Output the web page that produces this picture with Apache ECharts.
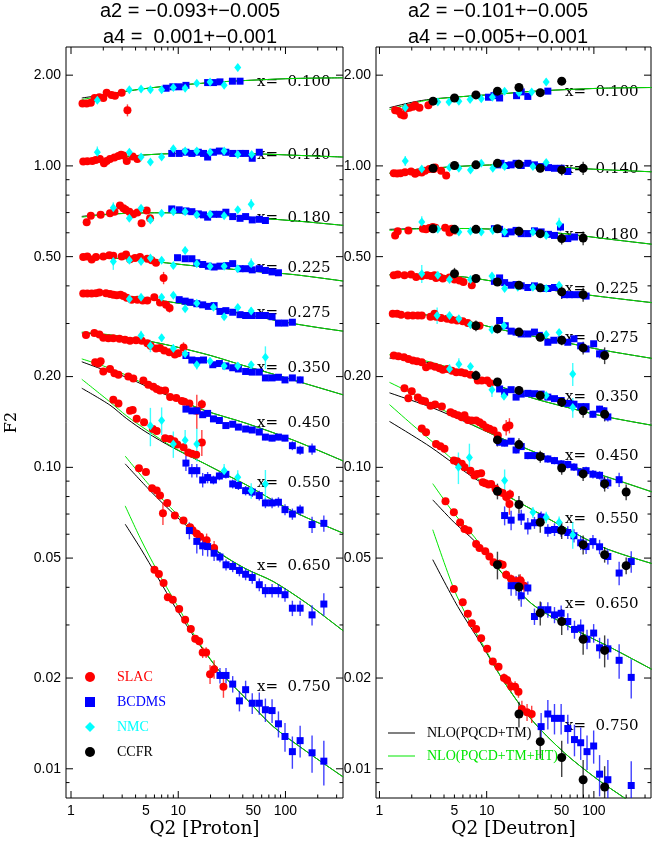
<!DOCTYPE html>
<html>
<head>
<meta charset="utf-8">
<title>F2 proton / deuteron</title>
<script src="https://cdn.jsdelivr.net/npm/echarts@6.0.0/dist/echarts.min.js"></script>
<style>html,body{margin:0;background:#fff}#main{width:654px;height:845px}</style>
</head>
<body>
<div id="main"></div>
<script>
// x bins (one row of points + two curves each)
var xBins = ['0.100', '0.140', '0.180', '0.225', '0.275', '0.350', '0.450', '0.550', '0.650', '0.750'];

// tick values
var xMajor = [1, 10, 100];
var xMinor = [2, 3, 4, 5, 6, 7, 8, 9, 20, 30, 40, 50, 60, 70, 80, 90, 200, 300];
var xLabels = [1, 5, 10, 50, 100];
var yMajor = [0.01, 0.02, 0.05, 0.1, 0.2, 0.5, 1, 2];
var yMinor = [0.009, 0.03, 0.04, 0.06, 0.07, 0.08, 0.09, 0.3, 0.4, 0.6, 0.7, 0.8, 0.9];

// ---- proton: [Q2, F2, err] ----
var pSLAC = [
  // 0.100
  [1.28,1.61,.02],[1.40,1.61,.02],[1.53,1.62,.02],[1.66,1.68,.03],[1.84,1.69,.02],[2.0,1.68,.02],[2.15,1.75,.02],[2.39,1.72,.02],[2.57,1.71,.02],[2.97,1.75,.03],[3.36,1.53,.07],
  // 0.140
  [1.30,1.034,.012],[1.42,1.036,.012],[1.58,1.039,.012],[1.70,1.047,.015],[1.86,1.055,.012],[2.03,1.02,.015],[2.15,1.039,.012],[2.31,1.055,.015],[2.54,1.066,.012],[2.77,1.079,.015],[2.93,1.088,.015],[3.08,1.082,.015],[3.31,1.039,.015],[3.76,1.074,.015],[4.16,1.055,.02],
  // 0.180
  [1.40,0.650,.008],[1.53,0.684,.008],[1.89,0.688,.008],[2.31,0.697,.008],[2.54,0.705,.01],[2.86,0.739,.01],[3.08,0.724,.01],[3.23,0.715,.01],[3.5,0.705,.01],[3.81,0.691,.01],[4.16,0.70,.01],[4.55,0.645,.015],[5.08,0.711,.012],[5.46,0.67,.012],
  // 0.225
  [1.30,0.499,.005],[1.42,0.501,.005],[1.56,0.489,.005],[1.71,0.499,.005],[2.0,0.501,.005],[2.28,0.505,.006],[2.48,0.503,.006],[2.97,0.501,.006],[3.26,0.508,.006],[3.55,0.49,.006],[3.95,0.495,.006],[4.4,0.499,.006],[5.15,0.492,.007],[5.65,0.486,.007],[6.2,0.477,.007],[7.3,0.425,.02],
  // 0.275
  [1.30,0.377,.004],[1.42,0.377,.004],[1.56,0.377,.004],[1.71,0.378,.004],[1.84,0.380,.004],[2.12,0.378,.004],[2.31,0.376,.004],[2.48,0.374,.004],[2.67,0.372,.004],[2.90,0.374,.004],[3.08,0.370,.004],[3.31,0.365,.004],[3.68,0.360,.005],[4.16,0.360,.005],[4.66,0.358,.005],[5.15,0.358,.005],[5.98,0.367,.006],[6.76,0.352,.006],[7.7,0.346,.008],[8.3,0.338,.012],
  // 0.350
  [1.38,0.275,.003],[1.65,0.279,.003],[1.84,0.276,.003],[2.0,0.269,.003],[2.23,0.268,.003],[2.48,0.268,.003],[2.83,0.267,.003],[3.19,0.265,.003],[3.55,0.263,.003],[4.04,0.264,.003],[4.57,0.263,.003],[5.15,0.258,.003],[5.53,0.253,.003],[6.2,0.248,.003],[6.76,0.249,.003],[7.4,0.244,.004],[8.25,0.241,.004],[9.3,0.237,.004],[10.0,0.239,.004],[11.2,0.250,.01],
  // 0.450
  [1.68,0.223,.003],[1.80,0.221,.003],[1.89,0.225,.003],[2.0,0.208,.003],[2.31,0.212,.003],[2.54,0.205,.003],[2.77,0.203,.003],[3.42,0.20,.003],[3.81,0.197,.003],[4.73,0.194,.003],[5.26,0.188,.003],[5.86,0.185,.003],[6.3,0.182,.003],[6.76,0.180,.003],[7.55,0.180,.003],[8.4,0.171,.003],[9.6,0.170,.003],[10.8,0.166,.004],[11.4,0.165,.004],[12.7,0.163,.004],[14.9,0.154,.02],[16.6,0.162,.006],
  // 0.550
  [2.48,0.1675,.002],[2.77,0.163,.002],[3.55,0.154,.002],[3.76,0.155,.002],[4.1,0.145,.002],[4.8,0.1412,.002],[5.8,0.134,.002],[6.3,0.132,.002],[7.55,0.125,.002],[8.4,0.1242,.002],[9.2,0.122,.002],[9.8,0.119,.002],[11.2,0.1166,.002],[12.4,0.112,.002],[13.4,0.111,.003],[14.7,0.110,.003],[16.6,0.121,.012],
  // 0.650
  [4.3,0.0993,.0015],[5.0,0.0965,.0015],[5.7,0.0852,.0015],[6.3,0.0838,.0015],[6.76,0.0807,.0015],[7.2,0.0704,.006],[7.9,0.0762,.0015],[9.3,0.0692,.0015],[11.2,0.0666,.0015],[12.9,0.0633,.0015],[13.6,0.0618,.002],[14.9,0.0602,.002],[16.0,0.0588,.002],[18.4,0.0573,.003],[21.6,0.054,.003],
  // 0.750
  [6.0,0.0457,.0008],[6.6,0.0443,.0008],[7.3,0.0413,.0008],[8.0,0.0371,.0008],[8.9,0.0364,.0008],[10.2,0.0339,.0008],[11.6,0.0312,.0008],[13.1,0.0291,.0008],[14.4,0.0270,.0008],[15.7,0.0265,.0008],[16.9,0.0243,.001],[18.2,0.0243,.001],[19.8,0.0206,.0015],[21.6,0.0214,.0015],[26.4,0.0187,.0015]
];
var pBCDMS = [
  [7.7,1.81,.02],[8.9,1.83,.02],[10.2,1.83,.02],[11.8,1.85,.02],[18.8,1.89,.02],[21.3,1.89,.02],[24.5,1.90,.02],[32,1.91,.02],[37.7,1.91,.02],
  [8.7,1.10,.012],[10.2,1.10,.012],[11.8,1.11,.012],[13.4,1.10,.012],[15.4,1.11,.012],[17.2,1.10,.012],[18.8,1.07,.012],[21.3,1.11,.012],[24.2,1.12,.012],[27.8,1.11,.012],[32.2,1.10,.012],[37.7,1.10,.012],[42.5,1.10,.012],[49,1.06,.015],[57,1.11,.015],
  [8.7,0.72,.008],[10.2,0.715,.008],[11.8,0.709,.008],[13.4,0.705,.008],[15.4,0.693,.008],[17.2,0.688,.008],[18.8,0.676,.008],[21.3,0.691,.008],[24.2,0.691,.008],[27.8,0.702,.008],[32.2,0.679,.008],[37.7,0.67,.008],[42.5,0.679,.008],[49,0.662,.008],[57,0.665,.008],[65,0.659,.01],
  [9.85,0.496,.005],[11.6,0.492,.005],[13.4,0.492,.005],[14.9,0.477,.005],[16.9,0.471,.005],[19.1,0.465,.005],[21.6,0.462,.005],[24.5,0.465,.005],[28.3,0.467,.005],[32.2,0.474,.005],[37.7,0.456,.005],[42.5,0.456,.005],[49,0.452,.005],[57,0.456,.006],[65,0.45,.006],[75,0.445,.006],[86,0.442,.007],
  [10.2,0.360,.004],[11.6,0.356,.004],[12.9,0.353,.004],[14.9,0.349,.004],[16.9,0.346,.004],[19.1,0.342,.004],[21.6,0.344,.004],[24.5,0.329,.004],[27.8,0.331,.004],[32.2,0.327,.004],[37.7,0.321,.004],[42.5,0.319,.004],[49,0.319,.004],[57,0.319,.004],[65,0.319,.004],[75,0.316,.005],[86,0.301,.005],[99,0.301,.005],[116,0.303,.006],
  [11.8,0.235,.003],[13.4,0.227,.003],[14.9,0.226,.003],[17.2,0.227,.003],[21,0.219,.003],[24.2,0.221,.003],[27.8,0.217,.003],[32.2,0.214,.003],[36.4,0.212,.003],[42.5,0.208,.003],[49,0.207,.003],[57,0.207,.003],[65,0.198,.003],[75,0.198,.003],[86,0.199,.003],[99,0.195,.004],[116,0.198,.004],[137,0.195,.005],
  [11.8,0.156,.003],[13.4,0.154,.003],[14.9,0.154,.003],[16.9,0.1495,.003],[18.8,0.151,.003],[21.3,0.1448,.003],[24.2,0.143,.003],[27.8,0.1376,.003],[32.2,0.139,.003],[36.4,0.136,.003],[42.5,0.134,.003],[49,0.133,.003],[57,0.131,.003],[65,0.126,.003],[75,0.125,.003],[86,0.126,.003],[99,0.125,.003],[116,0.118,.004],[137,0.114,.004],[177,0.115,.005],
  [11.8,0.1033,.006],[13.4,0.0975,.005],[14.9,0.0975,.005],[16.9,0.0908,.005],[18.8,0.0925,.004],[21.3,0.0908,.003],[24.2,0.0936,.003],[27.8,0.0948,.003],[32.2,0.0881,.003],[36.4,0.0871,.003],[42.5,0.0837,.003],[49,0.0828,.003],[57,0.0806,.003],[65,0.0762,.003],[75,0.0762,.003],[86,0.0766,.003],[99,0.0724,.003],[116,0.070,.003],[137,0.0722,.003],[177,0.0646,.004],[228,0.0652,.004],
  [12.7,0.0617,.004],[14.9,0.0568,.005],[16.9,0.0549,.004],[18.8,0.0546,.004],[21.6,0.0519,.003],[24.5,0.0504,.002],[27.9,0.0475,.002],[32.2,0.0469,.002],[37.2,0.0455,.002],[42.5,0.0442,.002],[49,0.0431,.002],[57,0.0408,.002],[65,0.039,.002],[75,0.039,.002],[86,0.039,.002],[99,0.0378,.002],[116,0.0341,.002],[137,0.0341,.002],[177,0.0324,.0025],[228,0.0352,.003],
  [24.5,0.0204,.0012],[27.9,0.0204,.0012],[32.2,0.0191,.0012],[37.2,0.0168,.0013],[42.5,0.0183,.0013],[49,0.0165,.0013],[57,0.0165,.0014],[65,0.0157,.0014],[75,0.0156,.0014],[86,0.0141,.0014],[99,0.0128,.0014],[116,0.0114,.0014],[137,0.0124,.0015],[177,0.0113,.0016],[228,0.0106,.0018]
];
var pNMC = [
  [1.76,1.65,.04],[3.5,1.79,.03],[4.5,1.80,.03],[5.5,1.79,.03],[7.0,1.79,.03],[9.0,1.82,.03],[11.6,1.81,.03],[14.9,1.88,.03],[19.8,1.90,.03],[26.8,1.85,.03],[35.9,2.12,.06],
  [1.76,1.11,.05],[3.5,1.11,.02],[4.5,1.07,.02],[5.5,1.03,.02],[7.0,1.07,.02],[9.0,1.14,.02],[11.6,1.12,.02],[14.9,1.12,.02],[19.8,1.11,.02],[26.8,1.12,.02],[35.9,1.09,.02],[48.4,1.09,.025],
  [2.48,0.727,.03],[3.5,0.67,.015],[4.5,0.724,.015],[5.5,0.662,.015],[7.0,0.697,.012],[9.0,0.705,.012],[11.6,0.705,.012],[14.9,0.688,.012],[19.8,0.691,.012],[26.8,0.684,.012],[35.9,0.715,.015],[47.9,0.746,.03],
  [2.48,0.482,.03],[3.5,0.486,.01],[4.5,0.482,.01],[5.5,0.495,.01],[7.0,0.486,.01],[9.0,0.467,.01],[11.6,0.524,.015],[14.9,0.474,.008],[19.8,0.465,.008],[26.8,0.465,.008],[35.9,0.456,.01],[47.9,0.474,.02],
  [3.5,0.362,.008],[4.5,0.367,.008],[7.0,0.367,.008],[9.0,0.372,.008],[11.6,0.336,.008],[14.9,0.35,.008],[21.3,0.34,.008],[26.8,0.316,.008],[35.9,0.339,.008],[47.9,0.33,.01],
  [4.5,0.274,.01],[5.5,0.253,.012],[7.0,0.269,.008],[9.0,0.248,.008],[11.6,0.238,.008],[14.9,0.219,.008],[19.8,0.225,.006],[26.8,0.217,.006],[35.9,0.217,.006],[47.9,0.219,.006],[65,0.232,.02],
  [5.5,0.1375,.02],[7.0,0.143,.015],[9.0,0.1195,.012],[11.6,0.123,.01],[14.9,0.1195,.015],[26.8,0.0975,.005],[35.9,0.0928,.005],[47.9,0.0836,.005],[65,0.088,.01]
];

// ---- deuteron: [Q2, F2, err] ----
var dSLAC = [
  [1.40,1.53,.03],[1.50,1.52,.03],[1.59,1.48,.03],[1.69,1.47,.04],[1.77,1.55,.03],[1.90,1.56,.03],[2.05,1.57,.03],[2.15,1.59,.03],[2.36,1.56,.03],[2.86,1.59,.03],
  [1.36,0.946,.01],[1.46,0.943,.01],[1.57,0.946,.01],[1.73,0.953,.01],[1.97,0.958,.01],[2.15,0.941,.01],[2.31,0.953,.01],[2.48,0.95,.01],[2.66,0.963,.01],[2.92,0.977,.01],[3.21,0.977,.012],[3.30,0.987,.012],[3.76,0.963,.012],[4.19,0.929,.02],
  [1.40,0.588,.008],[1.48,0.607,.008],[1.86,0.611,.006],[2.54,0.619,.006],[2.72,0.616,.006],[2.92,0.622,.006],[3.14,0.627,.006],[3.33,0.624,.006],[4.1,0.624,.006],[4.5,0.601,.008],[4.73,0.619,.008],[5.07,0.611,.008],
  [1.36,0.434,.004],[1.48,0.436,.004],[1.71,0.434,.004],[1.97,0.436,.004],[2.2,0.428,.004],[2.48,0.431,.004],[2.78,0.434,.004],[3.03,0.431,.004],[3.26,0.434,.004],[3.37,0.425,.004],[3.63,0.428,.004],[3.9,0.423,.004],[4.5,0.426,.005],[5.01,0.420,.005],[5.58,0.417,.005],[6.07,0.412,.006],[7.26,0.402,.01],
  [1.33,0.323,.003],[1.46,0.323,.003],[1.59,0.321,.003],[1.84,0.319,.003],[2.05,0.319,.003],[2.28,0.319,.003],[2.48,0.319,.003],[2.99,0.316,.003],[3.26,0.323,.006],[3.37,0.316,.003],[3.76,0.313,.003],[4.28,0.311,.003],[4.73,0.309,.003],[5.3,0.307,.003],[5.98,0.305,.003],[6.67,0.301,.004],[7.8,0.295,.004],[8.57,0.295,.004],
  [1.36,0.2349,.002],[1.50,0.2337,.002],[1.69,0.232,.002],[1.86,0.2288,.002],[2.05,0.2261,.002],[2.24,0.225,.002],[2.48,0.2233,.002],[2.72,0.2148,.002],[2.99,0.2175,.002],[3.3,0.2158,.002],[3.63,0.213,.002],[3.9,0.2109,.002],[4.28,0.212,.002],[4.73,0.2093,.002],[5.2,0.2067,.002],[5.78,0.2067,.002],[6.28,0.2051,.002],[7.06,0.203,.003],[8.26,0.194,.003],[9.0,0.194,.003],[10.1,0.194,.003],[10.8,0.19,.003],
  [1.71,0.1831,.002],[1.86,0.1694,.002],[2.0,0.179,.002],[2.28,0.1706,.002],[2.48,0.1665,.002],[2.66,0.1657,.002],[2.99,0.1602,.002],[3.3,0.1616,.002],[3.82,0.1591,.002],[4.6,0.1524,.002],[4.94,0.1507,.002],[5.38,0.149,.002],[5.86,0.1467,.002],[6.21,0.149,.002],[6.67,0.1436,.002],[7.26,0.143,.002],[7.97,0.143,.002],[8.57,0.1411,.002],[9.2,0.1387,.002],[9.9,0.1356,.002],[10.6,0.1342,.002],[11.6,0.1326,.002],[12.7,0.1275,.003],[15.2,0.1356,.008],[16.3,0.1376,.008],
  [2.48,0.1346,.0015],[2.72,0.1308,.0015],[3.37,0.1195,.0015],[3.7,0.1175,.0015],[4.04,0.1153,.0015],[4.94,0.1053,.0015],[5.3,0.1048,.0015],[5.86,0.1027,.0015],[6.21,0.100,.0015],[7.06,0.0975,.0015],[7.69,0.094,.0015],[8.15,0.0951,.0015],[8.88,0.0955,.0015],[9.2,0.0892,.0015],[9.7,0.0886,.0015],[10.4,0.0877,.0015],[11.0,0.0881,.0015],[12.1,0.0849,.002],[13.2,0.0829,.002],[14.1,0.0822,.002],[15.2,0.0798,.003],[16.5,0.0814,.003],[16.3,0.0756,.006],
  [4.13,0.0772,.001],[4.94,0.0709,.001],[5.65,0.0656,.001],[6.21,0.0624,.001],[6.77,0.0617,.001],[7.97,0.0557,.001],[8.57,0.054,.001],[9.7,0.0527,.001],[10.6,0.0506,.001],[11.6,0.0484,.001],[13.2,0.0479,.0015],[14.1,0.0475,.0015],[15.2,0.044,.0015],[16.9,0.0426,.0015],[18.8,0.0419,.0015],[20.6,0.0422,.002],[22.3,0.0405,.002],
  [4.94,0.0395,.0006],[5.98,0.0357,.0006],[6.67,0.0327,.0006],[7.26,0.0304,.0006],[7.97,0.0291,.0006],[8.88,0.0271,.0006],[10.1,0.025,.0006],[11.4,0.0227,.0006],[12.9,0.0218,.0006],[14.5,0.02,.0007],[15.5,0.0197,.0007],[16.9,0.0188,.0008],[18.4,0.0187,.0008],[19.8,0.018,.0008],[21.3,0.0158,.001],[23.8,0.0154,.001],[26.3,0.0152,.001]
];
var dBCDMS = [
  [10.4,1.69,.02],[11.7,1.71,.02],[13.2,1.68,.02],[19,1.71,.02],[21,1.76,.02],[24.2,1.70,.02],[37.2,1.77,.03],
  [12.7,1.008,.012],[13.6,1.02,.012],[15.2,1.003,.012],[16.9,1.008,.012],[18.8,1.02,.012],[21,1.003,.012],[24.2,1.02,.012],[27.9,1.008,.012],[32.2,0.995,.012],[37.7,0.987,.012],[42.9,0.982,.012],[49.5,0.982,.015],[57.1,0.958,.015],
  [11.8,0.619,.007],[13.2,0.616,.007],[14.9,0.596,.007],[16.9,0.604,.007],[18.8,0.611,.007],[21,0.596,.007],[24.2,0.596,.007],[27.9,0.609,.007],[32.2,0.604,.007],[37.7,0.593,.007],[42.9,0.588,.007],[48.8,0.627,.02],[57.1,0.574,.008],[65.9,0.581,.008],
  [11.8,0.414,.005],[13.2,0.425,.005],[14.7,0.410,.005],[16.9,0.402,.005],[18.8,0.404,.005],[21,0.400,.005],[24.2,0.395,.005],[27.9,0.400,.005],[32.2,0.392,.005],[37.2,0.392,.005],[42.9,0.395,.005],[53.2,0.374,.005],[59.3,0.374,.005],[65.9,0.374,.005],[76.1,0.374,.006],[84.6,0.370,.006],
  [13.2,0.307,.004],[14.9,0.295,.004],[16.9,0.283,.004],[18.8,0.281,.004],[21,0.277,.004],[24.2,0.277,.004],[27.9,0.281,.004],[31,0.274,.004],[37.2,0.260,.004],[42.3,0.264,.004],[49.5,0.265,.004],[57.1,0.260,.004],[65.2,0.267,.004],[75.3,0.253,.005],[84.6,0.247,.005],[99.5,0.257,.005],[113,0.238,.008],[124,0.238,.008],
  [13.2,0.182,.003],[14.7,0.1775,.003],[16.9,0.181,.003],[18.8,0.171,.003],[21,0.175,.003],[24.2,0.176,.003],[27.9,0.1755,.003],[32.2,0.175,.003],[37.2,0.171,.003],[42.9,0.169,.003],[49.5,0.1666,.003],[57.1,0.163,.003],[65.2,0.162,.003],[75.3,0.159,.003],[84.6,0.159,.003],[98,0.150,.004],[113,0.156,.004],[124,0.154,.004],[135,0.147,.005],
  [13.2,0.1212,.003],[14.7,0.1203,.003],[16.9,0.1221,.003],[18.8,0.1142,.003],[21,0.1172,.003],[24.2,0.1094,.003],[27.9,0.1094,.003],[32.2,0.1086,.003],[37.2,0.1066,.003],[42.9,0.1053,.003],[49.5,0.1027,.003],[57.1,0.1022,.003],[65.2,0.1002,.003],[75.3,0.0964,.003],[84.6,0.0975,.003],[98,0.0949,.003],[113,0.0941,.003],[124,0.0888,.004],[135,0.0888,.004],[172,0.091,.005],
  [14.7,0.0692,.005],[16.9,0.0668,.005],[21,0.0684,.004],[24.2,0.0639,.004],[27.9,0.0655,.003],[32.2,0.0684,.003],[37.2,0.0618,.003],[42.9,0.0622,.003],[49.5,0.0618,.003],[57.1,0.0608,.003],[65.2,0.0593,.003],[75.3,0.0562,.003],[84.6,0.0546,.003],[98,0.0567,.003],[113,0.0545,.003],[135,0.0506,.003],[172,0.0446,.004],[223,0.0487,.004],
  [16.9,0.0405,.003],[18.8,0.0405,.003],[21,0.0375,.003],[24.2,0.0398,.002],[27.9,0.032,.002],[32.2,0.0337,.002],[37.2,0.0337,.002],[42.9,0.0324,.002],[49.5,0.0328,.002],[57.1,0.0308,.002],[65.9,0.029,.002],[75.3,0.0293,.002],[86.3,0.0269,.002],[99.5,0.0282,.002],[113,0.0252,.002],[135,0.025,.002],[172,0.0229,.003],[223,0.0201,.003],
  [32.2,0.0138,.0015],[37.2,0.0152,.0017],[42.9,0.0147,.0017],[49.5,0.0147,.0017],[57.1,0.0136,.0015],[65.9,0.0125,.0015],[75.3,0.0122,.0015],[86.3,0.0114,.0015],[99.5,0.0119,.0015],[113,0.0096,.0015],[135,0.0092,.0015],[223,0.0088,.0018]
];
var dNMC = [
  [1.74,1.56,.03],[3.5,1.63,.02],[4.45,1.63,.02],[5.5,1.64,.02],[7.0,1.66,.02],[8.9,1.67,.02],[11.3,1.69,.02],[14.7,1.77,.02],[20,1.75,.02],[26.3,1.76,.02],[35.9,1.90,.05],
  [1.74,1.039,.04],[2.48,0.977,.015],[4.5,0.987,.012],[5.5,0.982,.012],[7.06,0.97,.012],[8.9,1.02,.012],[11.4,0.982,.012],[14.7,0.995,.012],[19.5,1.008,.012],[27,0.995,.012],[35.9,1.026,.015],
  [2.48,0.651,.03],[3.5,0.616,.01],[5.5,0.604,.008],[7.06,0.607,.008],[8.9,0.604,.008],[11.4,0.611,.008],[14.7,0.604,.008],[19.5,0.607,.008],[27,0.604,.008],[35.9,0.588,.008],[47.4,0.643,.03],
  [2.48,0.439,.03],[3.5,0.434,.006],[4.5,0.42,.006],[7.06,0.42,.006],[11.2,0.431,.008],[14.7,0.392,.006],[19.5,0.396,.006],[27,0.396,.006],[35.9,0.392,.006],[47.4,0.402,.008],
  [3.45,0.319,.02],[4.5,0.319,.005],[5.5,0.311,.005],[7.06,0.297,.005],[11.2,0.286,.005],[14.5,0.295,.005],[35.9,0.276,.005],[47.4,0.28,.006],[63.5,0.204,.018],
  [4.5,0.212,.008],[5.5,0.220,.01],[7.06,0.216,.004],[11.2,0.181,.01],[14.5,0.172,.004],[35.9,0.173,.004],[63.5,0.158,.012],
  [5.45,0.100,.012],[6.9,0.1078,.012],[14.7,0.0904,.008],[27,0.0709,.003],[35.9,0.0683,.003],[47.4,0.0657,.003],[63.5,0.0597,.006]
];
var dCCFR = [
  [3.16,1.64,.03],[5.01,1.68,.03],[7.94,1.72,.03],[12.6,1.77,.03],[20,1.82,.03],[31.6,1.75,.04],[50.1,1.91,.05],
  [3.16,0.982,.03],[5.01,1.003,.02],[7.94,1.008,.02],[12.6,1.02,.03],[20,1.013,.03],[31.6,0.982,.03],[50.1,0.97,.04],[79.4,0.982,.05],
  [3.16,0.619,.012],[5.01,0.616,.012],[7.94,0.616,.012],[12.6,0.619,.012],[20,0.607,.012],[31.6,0.596,.02],[50.1,0.574,.025],[79.4,0.576,.03],
  [5.01,0.439,.02],[7.94,0.423,.01],[12.6,0.412,.01],[20,0.402,.01],[31.6,0.394,.01],[50.1,0.382,.02],[79.4,0.374,.02],
  [7.94,0.295,.012],[12.6,0.288,.01],[20,0.281,.008],[31.6,0.270,.008],[50.1,0.264,.01],[79.4,0.249,.012],[126,0.235,.015],
  [7.94,0.2016,.008],[12.6,0.192,.006],[20,0.180,.006],[31.6,0.173,.006],[50.1,0.1645,.006],[79.4,0.154,.008],[126,0.150,.008],
  [12.6,0.1233,.006],[20,0.119,.006],[31.6,0.1086,.005],[50.1,0.0995,.005],[79.4,0.0951,.005],[126,0.0881,.005],[200,0.0828,.005],
  [12.6,0.0833,.005],[20,0.0753,.005],[31.6,0.0657,.005],[50.1,0.0618,.004],[79.4,0.0554,.004],[126,0.0513,.003],[200,0.0472,.003],
  [12.6,0.0475,.005],[20,0.0401,.004],[31.6,0.0329,.003],[50.1,0.0308,.003],[79.4,0.0269,.003],[126,0.0247,.003],
  [20,0.0152,.0015],[31.6,0.0123,.0015],[50.1,0.0109,.0015],[79.4,0.0092,.0015],[126,0.0087,.0015]
];

// ---- NLO curves, one list per x bin: [Q2, F2] ----
var pHT = [
  [[1.26,1.66],[2,1.71],[3.31,1.77],[6.76,1.83],[13.8,1.87],[28,1.905],[58,1.93],[120,1.95],[345,1.96]],
  [[1.26,1.018],[2,1.05],[3.3,1.075],[6.8,1.095],[14,1.10],[28,1.10],[60,1.095],[120,1.085],[345,1.07]],
  [[1.26,0.676],[2,0.688],[3.3,0.696],[6,0.699],[10,0.698],[20,0.69],[40,0.678],[80,0.665],[150,0.653],[345,0.635]],
  [[1.26,0.496],[2,0.495],[3.31,0.492],[5,0.485],[9,0.474],[15,0.465],[28,0.456],[55,0.446],[119,0.436],[345,0.415]],
  [[1.26,0.378],[2,0.377],[3.3,0.37],[6,0.36],[12,0.347],[25,0.333],[50,0.318],[100,0.303],[200,0.291],[345,0.283]],
  [[1.26,0.281],[2,0.277],[3.3,0.27],[6,0.26],[10,0.25],[20,0.235],[40,0.218],[80,0.203],[150,0.19],[345,0.174]],
  [[1.26,0.229],[2,0.217],[3.3,0.202],[5,0.188],[9,0.171],[18,0.154],[43,0.14],[119,0.123],[345,0.105]],
  [[1.26,0.196],[2.3,0.165],[3.31,0.148],[5,0.1335],[9,0.1165],[18,0.1025],[28,0.0945],[43,0.0875],[119,0.0713],[345,0.0605]],
  [[3.2,0.109],[5.5,0.0865],[9.7,0.0700],[16,0.0590],[24.5,0.0520],[43,0.0460],[77,0.0418],[158,0.0354],[345,0.0287]],
  [[3.2,0.0745],[4.5,0.0575],[6.3,0.0457],[9.7,0.035],[14.9,0.0269],[24.5,0.021],[43.5,0.017],[77,0.0138],[158,0.0114],[345,0.0094]]
];
var pTM = [
  [[1.26,1.68],[2,1.72],[3.31,1.77],[6.76,1.83],[13.8,1.87],[28,1.905],[58,1.93],[120,1.95],[345,1.96]],
  [[1.26,1.02],[2,1.05],[3.3,1.075],[6.8,1.095],[14,1.10],[28,1.10],[60,1.095],[120,1.085],[345,1.07]],
  [[1.26,0.68],[2,0.69],[3.3,0.696],[6,0.699],[10,0.698],[20,0.69],[40,0.678],[80,0.665],[150,0.653],[345,0.635]],
  [[1.26,0.496],[2,0.495],[3.31,0.492],[5,0.485],[9,0.474],[15,0.465],[28,0.456],[55,0.446],[119,0.436],[345,0.415]],
  [[1.26,0.378],[2,0.377],[3.3,0.37],[6,0.36],[12,0.347],[25,0.333],[50,0.318],[100,0.303],[200,0.291],[345,0.283]],
  [[1.26,0.279],[2,0.276],[3.3,0.27],[6,0.26],[10,0.25],[20,0.235],[40,0.218],[80,0.203],[150,0.19],[345,0.174]],
  [[1.26,0.224],[2,0.211],[3.3,0.199],[5,0.186],[9,0.170],[18,0.154],[43,0.14],[119,0.123],[345,0.105]],
  [[1.26,0.183],[2.3,0.161],[3.31,0.145],[5,0.131],[9,0.116],[18,0.1025],[28,0.0945],[43,0.0875],[119,0.0713],[345,0.0605]],
  [[3.2,0.1027],[5.5,0.0835],[9.7,0.0685],[16,0.0585],[24.5,0.0518],[43,0.0460],[77,0.0418],[158,0.0354],[345,0.0287]],
  [[3.2,0.0648],[4.5,0.0535],[6.3,0.0437],[9.7,0.0337],[14.9,0.0266],[24.5,0.021],[43.5,0.017],[77,0.0138],[158,0.0114],[345,0.0094]]
];
var dHT = [
  [[1.24,1.538],[2,1.61],[3.03,1.66],[6.2,1.70],[12.7,1.73],[25,1.765],[53,1.79],[120,1.81],[345,1.82]],
  [[1.24,0.946],[2,0.968],[3.03,0.982],[6,0.998],[12.7,1.008],[25,1.002],[53,0.987],[120,0.972],[345,0.956]],
  [[1.24,0.611],[2,0.617],[3.03,0.619],[6,0.62],[12.7,0.616],[25,0.607],[53,0.596],[120,0.575],[345,0.550]],
  [[1.24,0.434],[3.03,0.434],[6.2,0.428],[12.7,0.412],[26,0.396],[53,0.382],[120,0.368],[345,0.352]],
  [[1.24,0.324],[2,0.323],[3.03,0.319],[6.2,0.307],[12.7,0.288],[25,0.274],[53,0.26],[120,0.245],[345,0.230]],
  [[1.24,0.2366],[2,0.231],[3.03,0.2231],[6.2,0.2066],[12.7,0.187],[25,0.171],[53,0.159],[120,0.148],[345,0.138]],
  [[1.24,0.1914],[2,0.176],[3.03,0.1623],[6.2,0.1429],[12.7,0.1264],[26,0.1136],[53,0.1026],[126,0.0935],[345,0.083]],
  [[1.24,0.1615],[2,0.139],[3.03,0.1226],[5,0.105],[8.26,0.0916],[12.7,0.0836],[26,0.0727],[53,0.0632],[126,0.054],[345,0.048]],
  [[3.14,0.0883],[5.01,0.070],[7.69,0.0587],[11,0.0494],[16.9,0.0413],[26,0.0354],[39.9,0.032],[70.8,0.0286],[145,0.0252],[345,0.0214]],
  [[3.14,0.0621],[4.94,0.0395],[6.67,0.0316],[8.88,0.0264],[14.7,0.0193],[26,0.0146],[53,0.0113],[109,0.0092],[193,0.008],[345,0.0069]]
];
var dTM = [
  [[1.24,1.56],[2,1.625],[3.03,1.665],[6.2,1.70],[12.7,1.73],[25,1.765],[53,1.79],[120,1.81],[345,1.82]],
  [[1.24,0.946],[2,0.968],[3.03,0.982],[6,0.998],[12.7,1.008],[25,1.002],[53,0.987],[120,0.972],[345,0.956]],
  [[1.24,0.616],[2,0.619],[3.03,0.620],[6,0.62],[12.7,0.616],[25,0.607],[53,0.596],[120,0.575],[345,0.550]],
  [[1.24,0.436],[3.03,0.434],[6.2,0.428],[12.7,0.412],[26,0.396],[53,0.382],[120,0.368],[345,0.352]],
  [[1.24,0.324],[2,0.323],[3.03,0.319],[6.2,0.307],[12.7,0.288],[25,0.274],[53,0.26],[120,0.245],[345,0.230]],
  [[1.24,0.2303],[2,0.227],[3.03,0.2215],[6.2,0.2066],[12.7,0.187],[25,0.171],[53,0.159],[120,0.148],[345,0.138]],
  [[1.24,0.1767],[2,0.1667],[3.03,0.1583],[6.2,0.142],[12.7,0.1264],[26,0.1136],[53,0.1026],[126,0.0935],[345,0.083]],
  [[1.24,0.142],[2,0.128],[3.03,0.1165],[5,0.1025],[8.26,0.0905],[12.7,0.0836],[26,0.0727],[53,0.0632],[126,0.054],[345,0.048]],
  [[3.14,0.078],[5.01,0.0655],[7.69,0.057],[11,0.049],[16.9,0.0413],[26,0.0354],[39.9,0.032],[70.8,0.0286],[145,0.0252],[345,0.0214]],
  [[3.14,0.0494],[5.38,0.0345],[8.88,0.026],[14.7,0.0193],[26,0.0146],[53,0.0113],[109,0.0092],[193,0.008],[345,0.0069]]
];

var RED = '#ff0000', BLUE = '#0000ff', CYAN = '#00ffff', BLACK = '#000000', GREEN = '#00e600';
var SERIF = '"DejaVu Serif"';

var chart = echarts.init(document.getElementById('main'));

// error bar drawn through the axes
function errBar(color) {
  return function (params, api) {
    var q = api.value(0), f = api.value(1), e = api.value(2);
    var a = api.coord([q, f - e]), b = api.coord([q, f + e]);
    return { type: 'line', shape: { x1: a[0], y1: a[1], x2: b[0], y2: b[1] },
      style: { stroke: color, lineWidth: 1.4, opacity: 0.75 } };
  };
}

// frame ticks (inside, on all four sides) and tick labels
function yTicks(params, api) {
  var cs = params.coordSys, v = api.value(1), len = api.value(2);
  var y = api.coord([1, v])[1];
  var ch = [
    { type: 'line', shape: { x1: cs.x, y1: y, x2: cs.x + len, y2: y }, style: { stroke: '#000', lineWidth: 1 } },
    { type: 'line', shape: { x1: cs.x + cs.width, y1: y, x2: cs.x + cs.width - len, y2: y }, style: { stroke: '#000', lineWidth: 1 } }
  ];
  if (api.value(3)) {
    ch.push({ type: 'text', x: cs.x - 5, y: y, style: { text: v.toFixed(2), font: '14px "Liberation Sans"', fill: '#000',
      align: 'right', verticalAlign: 'middle', textAlign: 'right', textVerticalAlign: 'middle' } });
  }
  return { type: 'group', children: ch };
}
function xTicks(params, api) {
  var cs = params.coordSys, v = api.value(0), len = api.value(2);
  var x = api.coord([v, 1])[0], bot = cs.y + cs.height;
  var ch = [
    { type: 'line', shape: { x1: x, y1: bot, x2: x, y2: bot - len }, style: { stroke: '#000', lineWidth: 1 } },
    { type: 'line', shape: { x1: x, y1: cs.y, x2: x, y2: cs.y + len }, style: { stroke: '#000', lineWidth: 1 } }
  ];
  if (api.value(3)) {
    ch.push({ type: 'text', x: x, y: bot + 6, style: { text: String(v), font: '14px "Liberation Sans"', fill: '#000',
      align: 'center', verticalAlign: 'top', textAlign: 'center', textVerticalAlign: 'top' } });
  }
  return { type: 'group', children: ch };
}
var yTickData = yMajor.map(function (v) { return [1, v, 7, 1]; })
  .concat(yMinor.map(function (v) { return [1, v, 3.5, 0]; }));
var xTickData = xMajor.concat(xMinor).map(function (v) {
  return [v, 1, xMajor.indexOf(v) >= 0 ? 7 : 3.5, xLabels.indexOf(v) >= 0 ? 1 : 0];
});

var panels = [
  { slac: pSLAC, bcdms: pBCDMS, nmc: pNMC, ccfr: [], tm: pTM, ht: pHT },
  { slac: dSLAC, bcdms: dBCDMS, nmc: dNMC, ccfr: dCCFR, tm: dTM, ht: dHT }
];

var series = [];
panels.forEach(function (p, i) {
  // curves
  p.tm.forEach(function (c) {
    series.push({ type: 'line', name: 'NLO(PQCD+TM)', xAxisIndex: i, yAxisIndex: i, data: c, smooth: 0.3,
      symbol: 'none', lineStyle: { color: BLACK, width: 1 }, itemStyle: { color: BLACK }, z: 2, silent: true });
  });
  p.ht.forEach(function (c) {
    series.push({ type: 'line', name: 'NLO(PQCD+TM+HT)', xAxisIndex: i, yAxisIndex: i, data: c, smooth: 0.3,
      symbol: 'none', lineStyle: { color: GREEN, width: 1 }, itemStyle: { color: GREEN }, z: 2, silent: true });
  });
  // data sets
  var sets = [
    { name: 'SLAC', d: p.slac, color: RED, symbol: 'circle', size: 8 },
    { name: 'BCDMS', d: p.bcdms, color: BLUE, symbol: 'rect', size: 7 },
    { name: 'NMC', d: p.nmc, color: CYAN, symbol: 'diamond', size: [7, 9] },
    { name: 'CCFR', d: p.ccfr, color: BLACK, symbol: 'circle', size: 9 }
  ];
  sets.forEach(function (s) {
    if (!s.d.length) return;
    series.push({ type: 'custom', xAxisIndex: i, yAxisIndex: i, data: s.d, renderItem: errBar(s.color),
      clip: true, z: 3, silent: true });
    series.push({ type: 'scatter', name: s.name, xAxisIndex: i, yAxisIndex: i, data: s.d, symbol: s.symbol,
      symbolSize: s.size, itemStyle: { color: s.color, opacity: 1 }, z: 4, silent: true });
  });
  series.push({ type: 'custom', xAxisIndex: i, yAxisIndex: i, data: yTickData, renderItem: yTicks, clip: false, z: 5, silent: true });
  series.push({ type: 'custom', xAxisIndex: i, yAxisIndex: i, data: xTickData, renderItem: xTicks, clip: false, z: 5, silent: true });
});

// text: fit results and bin labels
var graphics = [];
function txt(x, y, s, font, align) {
  graphics.push({ type: 'text', x: x, y: y, silent: true,
    style: { text: s, font: font, fill: '#000', align: align, verticalAlign: 'middle', textAlign: align, textVerticalAlign: 'middle' } });
}
txt(190, 11, 'a2 = \u22120.093+\u22120.005', '20px "Liberation Sans"', 'center');
txt(190, 37, 'a4 =  0.001+\u22120.001', '20px "Liberation Sans"', 'center');
txt(498, 11, 'a2 = \u22120.101+\u22120.005', '20px "Liberation Sans"', 'center');
txt(498, 37, 'a4 = \u22120.005+\u22120.001', '20px "Liberation Sans"', 'center');
var labelYs = [[82, 155, 218, 268, 313, 368, 423, 483, 566, 687], [92, 169, 235, 289, 338, 397, 456, 519, 604, 726]];
xBins.forEach(function (b, k) {
  txt(257, labelYs[0][k], 'x=  ' + b, '15px ' + SERIF, 'left');
  txt(565, labelYs[1][k], 'x=  ' + b, '15px ' + SERIF, 'left');
});

function xAx(gi, min, max, name) {
  return { gridIndex: gi, type: 'log', logBase: 10, min: min, max: max,
    axisLine: { show: false }, axisTick: { show: false }, axisLabel: { show: false }, splitLine: { show: false },
    name: name, nameLocation: 'middle', nameGap: 22,
    nameTextStyle: { fontFamily: 'DejaVu Serif', fontSize: 18.5, color: '#000' } };
}
function yAx(gi, name) {
  return { gridIndex: gi, type: 'log', logBase: 10, min: 0.008, max: 2.48,
    axisLine: { show: false }, axisTick: { show: false }, axisLabel: { show: false }, splitLine: { show: false },
    name: name, nameLocation: 'middle', nameGap: 46, nameRotate: 90,
    nameTextStyle: { fontFamily: 'DejaVu Serif', fontSize: 16, color: '#000' } };
}

var option = {
  backgroundColor: '#fff',
  animation: false,
  grid: [
    { left: 66, top: 47, width: 277, height: 751, show: true, borderColor: '#000', borderWidth: 1, backgroundColor: 'transparent' },
    { left: 376, top: 47, width: 275, height: 751, show: true, borderColor: '#000', borderWidth: 1, backgroundColor: 'transparent' }
  ],
  xAxis: [xAx(0, 0.898, 344, 'Q2 [Proton]'), xAx(1, 0.928, 341, 'Q2 [Deutron]')],
  yAxis: [yAx(0, 'F2'), yAx(1, '')],
  legend: [
    { orient: 'vertical', left: 85, top: 670, itemWidth: 10, itemHeight: 10, itemGap: 11, padding: 0, selectedMode: false,
      textStyle: { fontFamily: 'Liberation Serif', fontSize: 14, padding: [0, 0, 0, 17] },
      data: [
        { name: 'SLAC', icon: 'circle', textStyle: { color: RED } },
        { name: 'BCDMS', icon: 'rect', textStyle: { color: BLUE } },
        { name: 'NMC', icon: 'diamond', textStyle: { color: CYAN } },
        { name: 'CCFR', icon: 'circle', textStyle: { color: BLACK } }
      ] },
    { orient: 'vertical', left: 388, top: 726, itemWidth: 27, itemHeight: 1, itemGap: 9, padding: 0, selectedMode: false,
      textStyle: { fontFamily: 'Liberation Serif', fontSize: 14, padding: [0, 0, 0, 7] },
      data: [
        { name: 'NLO(PQCD+TM)', icon: 'rect', textStyle: { color: BLACK } },
        { name: 'NLO(PQCD+TM+HT)', icon: 'rect', textStyle: { color: GREEN } }
      ] }
  ],
  graphic: { elements: graphics },
  series: series
};
chart.setOption(option);
</script>
</body>
</html>
